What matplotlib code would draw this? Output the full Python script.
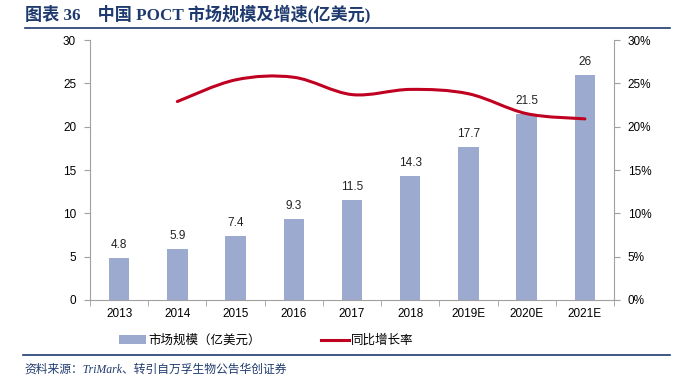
import matplotlib
matplotlib.use("Agg")
import matplotlib.pyplot as plt
from matplotlib.path import Path
from matplotlib.patches import PathPatch
from matplotlib.lines import Line2D
from matplotlib.patches import Patch
import numpy as np

plt.rcParams['font.family'] = ['Liberation Sans', 'Noto Sans CJK SC', 'DejaVu Sans']

# chart data
years = ["2013", "2014", "2015", "2016", "2017", "2018", "2019E", "2020E", "2021E"]
market_size = [4.8, 5.9, 7.4, 9.3, 11.5, 14.3, 17.7, 21.5, 26]
size_labels = ["4.8", "5.9", "7.4", "9.3", "11.5", "14.3", "17.7", "21.5", "26"]
growth_years = ["2014", "2015", "2016", "2017", "2018", "2019E", "2020E", "2021E"]
growth_rate = [22.9, 25.4, 25.7, 23.7, 24.3, 23.8, 21.5, 20.9]

BAR_COLOR = "#9DAACF"
LINE_COLOR = "#C00020"
NAVY = "#1F3A6E"
AXIS_GRAY = "#A0A0A0"


def smooth_path(xs, ys, tension=1 / 6):
    """Catmull-Rom style smoothed path as cubic Bezier segments."""
    pts = list(zip(xs, ys))
    verts = [pts[0]]
    codes = [Path.MOVETO]
    n = len(pts)
    for i in range(n - 1):
        p0 = pts[i - 1] if i > 0 else pts[i]
        p1 = pts[i]
        p2 = pts[i + 1]
        p3 = pts[i + 2] if i + 2 < n else pts[i + 1]
        c1 = (p1[0] + (p2[0] - p0[0]) * tension, p1[1] + (p2[1] - p0[1]) * tension)
        c2 = (p2[0] - (p3[0] - p1[0]) * tension, p2[1] - (p3[1] - p1[1]) * tension)
        verts += [c1, c2, p2]
        codes += [Path.CURVE4] * 3
    return Path(verts, codes)


fig = plt.figure(figsize=(6.83, 3.90), dpi=100)
ax = fig.add_axes([90 / 683, 1 - 300 / 390, 524 / 683, 260 / 390])

x = np.arange(len(years))
ax.bar(x, market_size, width=0.35, color=BAR_COLOR, zorder=2)
for xi, v, lab in zip(x, market_size, size_labels):
    ax.text(xi, v + 0.8, lab, ha="center", va="bottom", fontsize=8.5, color="#222222")

ax.set_xlim(-0.5, len(years) - 0.5)
ax.set_ylim(0, 30)
ax.set_yticks(range(0, 31, 5))
ax.set_xticks(x)
ax.set_xticklabels(years)
ax.set_xticks(np.arange(-0.5, len(years), 1), minor=True)
ax.tick_params(axis="x", which="major", length=0, labelsize=8.5, pad=6)
ax.tick_params(axis="x", which="minor", length=4, color=AXIS_GRAY, direction="out")
ax.tick_params(axis="y", length=4, color=AXIS_GRAY, labelsize=8.5, pad=6)

for side in ["top", "right"]:
    ax.spines[side].set_visible(False)
for side in ["left", "bottom"]:
    ax.spines[side].set_color(AXIS_GRAY)

ax2 = ax.twinx()
ax2.set_ylim(0, 30)
ax2.set_yticks(range(0, 31, 5))
ax2.set_yticklabels([f"{v}%" for v in range(0, 31, 5)])
ax2.tick_params(axis="y", length=4, color=AXIS_GRAY, labelsize=8.5, pad=6)
for side in ["top", "left", "bottom"]:
    ax2.spines[side].set_visible(False)
ax2.spines["right"].set_color(AXIS_GRAY)

gx = [years.index(y) for y in growth_years]
ax2.add_patch(PathPatch(smooth_path(gx, growth_rate), fill=False,
                        edgecolor=LINE_COLOR, lw=2.2, capstyle="round", zorder=3))

# legend
handles = [Patch(facecolor=BAR_COLOR, edgecolor="none"),
           Line2D([], [], color=LINE_COLOR, lw=2.2)]
fig.legend(handles, ["市场规模（亿美元）", "同比增长率"], loc="center",
           bbox_to_anchor=(0.39, 1 - 341 / 390), ncol=2, frameon=False,
           fontsize=9, handlelength=2.2, handletextpad=0.2, columnspacing=4.8)

# title and source
fig.text(25 / 683, 1 - 14 / 390, "图表 36    中国 POCT 市场规模及增速(亿美元)",
         fontsize=12.3, fontweight="bold", color=NAVY, va="center",
         family=["Liberation Serif", "Noto Sans CJK SC"])
fig.add_artist(Line2D([25 / 683, 670 / 683], [1 - 28 / 390] * 2, color=NAVY, lw=1.2))
fig.add_artist(Line2D([23 / 683, 670 / 683], [1 - 355 / 390] * 2, color=NAVY, lw=1.2))
fig.text(24 / 683, 1 - 370 / 390, "资料来源：TriMark、转引自万孚生物公告华创证券",
         fontsize=8.5, style="italic", color=NAVY, va="center",
         family=["Liberation Serif", "Noto Sans CJK SC"])

fig.savefig("out.png", dpi=100)
plt.close(fig)
